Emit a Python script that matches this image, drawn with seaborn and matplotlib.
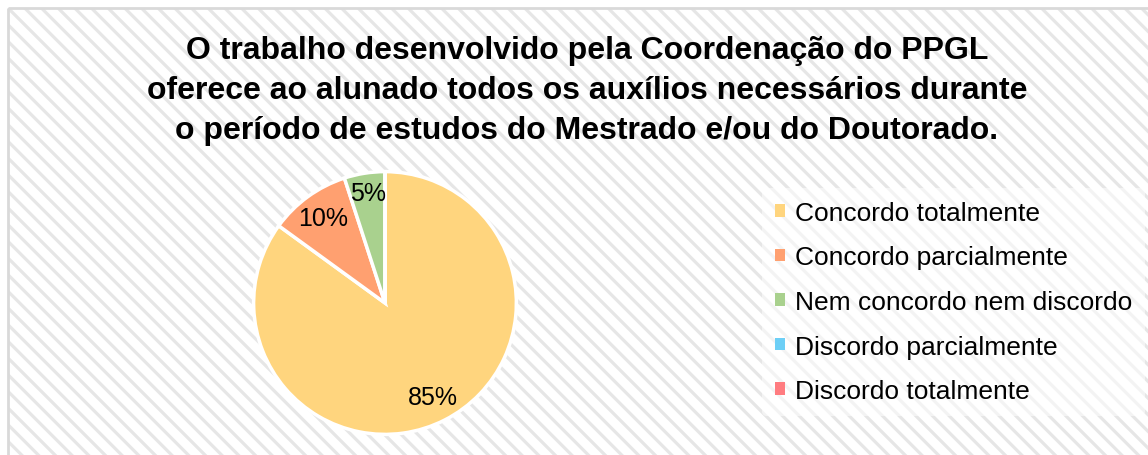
import numpy as np
import matplotlib
matplotlib.use("Agg")
import matplotlib.pyplot as plt
import seaborn as sns
from matplotlib.patches import Patch, Rectangle

categories = ["Concordo totalmente", "Concordo parcialmente", "Nem concordo nem discordo",
              "Discordo parcialmente", "Discordo totalmente"]
values = [85, 10, 5, 0, 0]
colors = ["#FFD57E", "#FFA070", "#A9D18E", "#6DCFF6", "#FF7C80"]
title = ("O trabalho desenvolvido pela Coordenação do PPGL\n"
         "oferece ao alunado todos os auxílios necessários durante\n"
         "o período de estudos do Mestrado e/ou do Doutorado.")

sns.set_theme(style="white")
plt.rcParams["font.family"] = ["Liberation Sans", "DejaVu Sans"]
plt.rcParams["hatch.linewidth"] = 2.3
plt.rcParams["hatch.color"] = "#e6e6e6"

W, H = 1148, 456
fig = plt.figure(figsize=(W / 100, H / 100), dpi=100)

# hatched background with border on left/top
bg = fig.add_axes([0, 0, 1, 1])
bg.set_xlim(0, W)
bg.set_ylim(H, 0)
bg.axis("off")
bg.add_patch(Rectangle((8, 9), W + 20, H + 20, facecolor="white", edgecolor="#e6e6e6",
                       hatch="\\\\", linewidth=0))
bg.add_patch(Rectangle((8, 9), W + 20, H + 20, facecolor="none", edgecolor="#d9d9d9",
                       linewidth=2))

fig.text(587 / W, 1 - 91 / H, title, ha="center", va="center", fontsize=23,
         fontweight="bold", linespacing=1.43, color="black")

# pie
cx, cy, r = 385, 304, 134
ax = fig.add_axes([(cx - r) / W, (H - cy - r) / H, 2 * r / W, 2 * r / H])
wedges, texts, autotexts = ax.pie(
    values, colors=colors, startangle=90, counterclock=False,
    autopct=lambda p: f"{p:.0f}%" if p > 0 else "", pctdistance=0.8,
    wedgeprops=dict(edgecolor="white", linewidth=2.5),
    textprops=dict(fontsize=18, color="black"))
ax.set_aspect("equal")
ax.set_xlim(-1.02, 1.02)
ax.set_ylim(-1.02, 1.02)

# small slice label sits a bit further out
w = wedges[2]
ang = np.deg2rad((w.theta1 + w.theta2) / 2)
autotexts[2].set_position((0.85 * np.cos(ang), 0.85 * np.sin(ang)))

handles = [Patch(facecolor=c, edgecolor="none") for c in colors]
leg = fig.legend(handles, categories, loc="center left", bbox_to_anchor=(749 / W, 1 - 303 / H),
                 fontsize=19, frameon=True, handlelength=0.36, handleheight=0.36,
                 handletextpad=0.38, labelspacing=0.78, borderpad=0.5, labelcolor="black")
leg.get_frame().set_facecolor("white")
leg.get_frame().set_alpha(0.55)
leg.get_frame().set_edgecolor("none")

fig.savefig("out.png", dpi=100)
